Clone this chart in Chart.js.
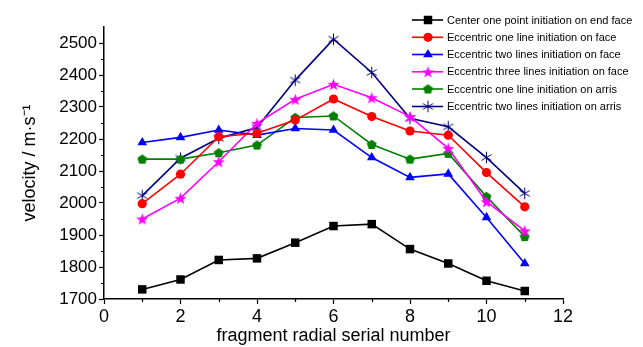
<!DOCTYPE html>
<html><head><meta charset="utf-8">
<script src="https://cdn.jsdelivr.net/npm/chart.js@4.4.1/dist/chart.umd.min.js"></script>
<style>html,body{margin:0;padding:0;background:#fff}#wrap{width:643px;height:347px}</style>
</head><body><div id="wrap"><canvas id="c" width="643" height="347"></canvas></div>
<script>
const xValues = [1,2,3,4,5,6,7,8,9,10,11];
const centerEndFace = [1730,1761,1822,1827,1876,1928,1934,1856,1811,1757,1725];
const eccOneLineFace = [1998,2090,2207,2218,2259,2325,2270,2225,2212,2095,1988];
const eccTwoLinesFace = [2189,2205,2228,2212,2233,2228,2142,2080,2091,1955,1811];
const eccThreeLinesFace = [1950,2015,2129,2249,2324,2371,2329,2270,2171,2004,1913];
const eccOneLineArris = [2137,2137,2157,2181,2267,2272,2183,2137,2155,2020,1895];
const eccTwoLinesArris = [2023,2140,2202,2236,2384,2512,2408,2265,2238,2142,2030];
const seriesNames = [
  'Center one point initiation on end face',
  'Eccentric one line initiation on face',
  'Eccentric two lines initiation on face',
  'Eccentric three lines initiation on face',
  'Eccentric one line initiation on arris',
  'Eccentric two lines initiation on arris'
];
const xTickLabels = ['0','2','4','6','8','10','12'];
const yTickLabels = ['1700','1800','1900','2000','2100','2200','2300','2400','2500'];

function makeCanvas(size, draw){
  const c = document.createElement('canvas');
  c.width = size; c.height = size;
  const ctx = c.getContext('2d');
  draw(ctx, size/2);
  return c;
}
const starImg = makeCanvas(13, (ctx, m) => {
  ctx.fillStyle = '#ff00ff';
  ctx.beginPath();
  const R = 6.3, r = 2.6;
  for (let i = 0; i < 10; i++) {
    const a = -Math.PI/2 + i*Math.PI/5;
    const rr = i % 2 ? r : R;
    const px = m + rr*Math.cos(a), py = m + 0.6 + rr*Math.sin(a);
    i ? ctx.lineTo(px, py) : ctx.moveTo(px, py);
  }
  ctx.closePath(); ctx.fill();
});
const pentaImg = makeCanvas(11, (ctx, m) => {
  ctx.fillStyle = '#008000';
  ctx.beginPath();
  const R = 5.2;
  for (let i = 0; i < 5; i++) {
    const a = -Math.PI/2 + i*2*Math.PI/5;
    const px = m + R*Math.cos(a), py = m + 0.4 + R*Math.sin(a);
    i ? ctx.lineTo(px, py) : ctx.moveTo(px, py);
  }
  ctx.closePath(); ctx.fill();
});
const asterImg = makeCanvas(13, (ctx, m) => {
  ctx.strokeStyle = '#000080';
  ctx.lineWidth = 1;
  const R = 5.8;
  ctx.beginPath();
  for (let i = 0; i < 3; i++) {
    const a = Math.PI/2 + i*Math.PI/3;
    ctx.moveTo(m + R*Math.cos(a), m + R*Math.sin(a));
    ctx.lineTo(m - R*Math.cos(a), m - R*Math.sin(a));
  }
  ctx.stroke();
});

const colors = ['#000000','#ff0000','#0000ff','#ff00ff','#008000','#000080'];
const seriesValues = [centerEndFace, eccOneLineFace, eccTwoLinesFace, eccThreeLinesFace, eccOneLineArris, eccTwoLinesArris];
const styles = ['rect','circle','triangle',starImg,pentaImg,asterImg];
const radii = [6,4.6,5.6,6,5.5,6];

const datasets = seriesValues.map((vals, i) => ({
  label: seriesNames[i],
  data: xValues.map((x, j) => ({x, y: vals[j]})),
  borderColor: colors[i],
  backgroundColor: colors[i],
  borderWidth: 1.6,
  pointStyle: styles[i],
  pointRadius: radii[i],
  pointHoverRadius: radii[i],
  pointBorderWidth: 0,
  pointBackgroundColor: colors[i],
  pointBorderColor: colors[i],
  tension: 0
}));

const legendPlugin = {
  id: 'customLegend',
  afterDraw(chart) {
    const ctx = chart.ctx;
    const rows = [20, 37.3, 54.5, 71.8, 89, 106.5];
    ctx.save();
    ctx.font = '11px "Liberation Sans", Arial, sans-serif';
    ctx.textBaseline = 'middle';
    ctx.textAlign = 'left';
    rows.forEach((y, i) => {
      ctx.strokeStyle = colors[i];
      ctx.lineWidth = 1.6;
      ctx.beginPath(); ctx.moveTo(412, y); ctx.lineTo(443, y); ctx.stroke();
      ctx.fillStyle = colors[i];
      ctx.strokeStyle = colors[i];
      ctx.lineWidth = 0;
      Chart.helpers.drawPoint(ctx, {pointStyle: styles[i], radius: radii[i], borderWidth: 0, rotation: 0}, 428, y);
      ctx.fillStyle = '#000';
      ctx.fillText(seriesNames[i], 447, y + 0.5);
    });
    ctx.restore();
  }
};

// short minor ticks drawn at the scale positions the library computes
const minorTickPlugin = {
  id: 'minorTicks',
  afterDraw(chart) {
    const ctx = chart.ctx;
    const xs = chart.scales.x, ys = chart.scales.y;
    ctx.save();
    ctx.strokeStyle = '#000';
    ctx.lineWidth = 1.2;
    ctx.beginPath();
    for (let v = 1; v < 12; v += 2) {
      const px = Math.round(xs.getPixelForValue(v)) + 0.5;
      ctx.moveTo(px, xs.top); ctx.lineTo(px, xs.top + 3);
    }
    for (let v = 1750; v < 2550; v += 100) {
      const py = Math.round(ys.getPixelForValue(v)) + 0.5;
      ctx.moveTo(ys.right, py); ctx.lineTo(ys.right - 3, py);
    }
    ctx.stroke();
    ctx.restore();
  }
};

new Chart(document.getElementById('c'), {
  type: 'line',
  data: { datasets },
  plugins: [legendPlugin, minorTickPlugin],
  options: {
    responsive: false,
    animation: false,
    events: [],
    layout: { padding: { top: 27, right: 80, left: 0, bottom: 0 } },
    plugins: { legend: { display: false }, tooltip: { enabled: false } },
    scales: {
      x: {
        type: 'linear', min: 0, max: 12,
        afterFit(s) { s.height = 48; },
        border: { color: '#000', width: 1.5 },
        grid: { drawOnChartArea: false, tickLength: 5, tickWidth: 1.2,
          tickColor: (c) => (c.tick && c.tick.value % 2 === 0 ? '#000' : 'rgba(0,0,0,0)') },
        ticks: {
          stepSize: 1, color: '#000', padding: 2, maxRotation: 0, autoSkip: false,
          font: { family: '"Liberation Sans", Arial, sans-serif', size: 18 },
          callback: (v) => (v % 2 === 0 ? xTickLabels[v/2] : '')
        },
        title: {
          display: true, text: 'fragment radial serial number', color: '#000',
          font: { family: '"Liberation Sans", Arial, sans-serif', size: 18 },
          padding: { top: 0, bottom: 0 }
        }
      },
      y: {
        type: 'linear', min: 1700, max: 2550,
        afterFit(s) { s.width = 104; },
        border: { color: '#000', width: 1.5 },
        grid: { drawOnChartArea: false, tickLength: 5, tickWidth: 1.2,
          tickColor: (c) => (c.tick && c.tick.value % 100 === 0 ? '#000' : 'rgba(0,0,0,0)') },
        ticks: {
          stepSize: 50, color: '#000', padding: 2, autoSkip: false,
          font: { family: '"Liberation Sans", Arial, sans-serif', size: 17 },
          callback: (v) => (v % 100 === 0 ? yTickLabels[(v-1700)/100] : '')
        },
        title: {
          display: true, text: 'velocity / m·s⁻¹', color: '#000',
          font: { family: '"Liberation Sans", Arial, sans-serif', size: 18 },
          padding: { top: 19, bottom: 0 }
        }
      }
    }
  }
});
</script></body></html>
